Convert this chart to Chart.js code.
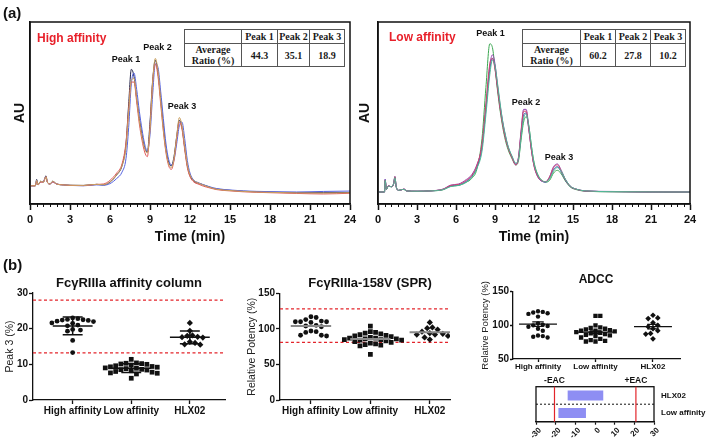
<!DOCTYPE html>
<html><head><meta charset="utf-8">
<script src="https://cdn.jsdelivr.net/npm/chart.js@4.4.1/dist/chart.umd.min.js"></script>
<style>
html,body{margin:0;padding:0;background:#fff;}
#wrap{position:relative;width:708px;height:440px;overflow:hidden;background:#fff;}
canvas{position:absolute;}
.lbl{position:absolute;font:bold 15px "Liberation Sans",Arial,sans-serif;color:#111;line-height:17px;}
.tb{position:absolute;border-collapse:collapse;table-layout:fixed;font:bold 10px "Liberation Serif","Times New Roman",serif;color:#1a1a1a;background:#fff;}
.tb td{border:1px solid #555;text-align:center;padding:0;line-height:11px;}
</style></head><body>
<div id="wrap">
<canvas id="cA" width="360" height="250" style="left:0;top:0"></canvas>
<canvas id="cB" width="353" height="250" style="left:355px;top:0"></canvas>
<canvas id="cC" width="235" height="170" style="left:0;top:262px"></canvas>
<canvas id="cD" width="235" height="170" style="left:235px;top:262px"></canvas>
<canvas id="cE" width="238" height="115" style="left:470px;top:262px"></canvas>
<canvas id="cF" width="238" height="68" style="left:470px;top:372px"></canvas>
<div class="lbl" style="left:3px;top:4px">(a)</div>
<div class="lbl" style="left:3px;top:256px">(b)</div>
<table class="tb" id="tA" style="left:184px;top:29px;width:160px;height:38px"></table>
<table class="tb" id="tB" style="left:522px;top:29px;width:163px;height:38px"></table>
</div>
<script>
// ---------------- data: (a) chromatograms ----------------
const TIME_TICKS = [0,3,6,9,12,15,18,21,24];
const TIME_HA = [0,0.4,0.5,0.6,0.8,1.0,1.2,1.3,1.5,1.7,2.0,2.5,3,4,5,5.5,6,6.5,6.9,7.2,7.4,7.6,7.8,8.0,8.2,8.4,8.6,8.8,9.0,9.2,9.4,9.6,9.8,10.0,10.2,10.4,10.6,10.8,11.0,11.2,11.4,11.6,11.8,12.0,12.3,12.6,13,13.5,14,15,16,18,20,22,24];
const HA_BLACK = [10,10,13.5,10.5,12.5,12,15.5,12,11,12.5, 11,10.5,10.3,10.2,10.8, 10.5,12,16,21,33, 55,74,70,58,47, 38,31,28.5,45,68, 79,72,58,43,30, 23,21,26,37,46, 42,31,21,15.5,12.5, 11.5,10.5,9.2,8.2,7.5, 7,6.5,6.2,6.2,6.3];
const HA_BLUE  = [10,10,13,10.5,12,12.5,15,12,11,12, 11,10.5,10.2,10,10.5, 10.3,11.2,14,17.5,25, 42,66,72,63,51, 41,33,29,38,60, 77,75,62,47,33, 24.5,21.5,24,33,43, 45,36,24,17,13, 11.8,10.6,9.4,8.5,7.7, 7.2,6.8,6.6,6.9,7.1];
const HA_RED   = [10,10,12.5,10.5,12,12,15,12,11,12, 11,10.5,10.2,10.1,10.8, 11,13,17,22,34, 52,67,67,56,44, 35,28.5,26,42,67, 77,70,55,40,28, 21,19,24,36,45, 41,30,20,15,12, 11,9.8,8.8,7.9,7.2, 6.7,6.2,5.8,5.5,5.9];
const HA_TAN   = [10,10,13,10.5,12.5,12,15,12,11,12.5, 11,10.5,10.3,10.2,10.8, 10.6,12.2,16,21,31, 50,68,69,58,46, 37,30.5,28,41,67, 80,73,57,41,29, 22,20,25,37,47.5, 43,32,21.5,16,12.8, 11.6,10.4,9.1,8.1,7.4, 6.9,6.4,6.1,6.0,6.2];

const TIME_LA = [0,0.5,0.55,0.65,0.8,1.0,1.2,1.3,1.4,1.6,1.9,2.0,2.2,3,4,5,5.6,6.2,6.8,7.2,7.6,8.0,8.3,8.6,8.8,9.0,9.2,9.4,9.6,9.8,10.0,10.3,10.6,10.8,11.0,11.2,11.4,11.6,11.8,12.0,12.3,12.6,12.9,13.2,13.5,13.8,14.1,14.4,14.8,15.2,16,18,20,22,24];
const LA_BLUE   = [6.6,6.6,13.5,8,10,9.5,11,15,9.5,7.5, 8,8.2,7.2,7,7.2, 8,10,10.5,12.5,15, 20,31,52,74,80, 75,64,53,44,37, 31.5,26,22,25,38, 49,50,41,30,21.5, 15,12.6,12,14.5,19, 20.5,17.5,13.2,9.5,8.2, 7.1,6.8,6.7,6.6,6.6];
const LA_GREEN  = [6.6,6.6,13,8,9.8,9.5,11,14.5,9.5,7.5, 8,8,7.2,7,7.2, 7.8,9.8,10.2,12,14, 19,36,64,88,86, 75,62,51,42,35, 30,25,21.5,23.5,35, 45,48,43,32,23, 16,13,12,13,17, 18.5,16.5,12.8,9.3,8, 7,6.7,6.6,6.5,6.5];
const LA_PURPLE = [6.6,6.6,13.5,8,10,9.5,11,15,9.5,7.5, 8,8.2,7.2,7,7.2, 8.2,10.4,11,13.5,16, 21.5,32,53,76,82, 77,65,54,45,37.5, 31.5,26,21.5,25.5,40, 52,52,42,30,21, 14.8,12.5,12.2,15,20.5, 22,18.5,13.8,9.8,8.3, 7.2,6.9,6.7,6.6,6.6];
const LA_RED    = [6.6,6.6,13,8,10,9.5,11,15,9.5,7.5, 8,8.2,7.2,7,7.2, 8.1,10.2,10.8,13,15.5, 21,33,55,77,80, 74,63,52,43,36, 31,25.5,21.5,25,39, 51,51,41,29.5,21, 15,12.8,12.3,14.8,20, 21.5,18,13.5,9.6,8.2, 7.1,6.8,6.7,6.6,6.6];
const LA_TEAL   = [6.6,6.6,13,8,9.8,9.5,11,14.5,9.5,7.5, 8,8,7.2,7,7.2, 7.9,9.6,10.2,12,14.5, 19.5,29,49,71,79, 76,66,55,45,38, 32,26.5,22.5,24.5,36, 47,49.5,43,32,22.5, 16,13,12.2,13.8,18, 20,18,13.8,9.8,8.3, 7.2,6.8,6.7,6.6,6.6];

const PEAK_NAMES = ['Peak 1','Peak 2','Peak 3'];
const HA_RATIO = [44.3,35.1,18.9];
const LA_RATIO = [60.2,27.8,10.2];

// ---------------- data: (b) ----------------
const GROUPS = ['High affinity','Low affinity','HLX02'];
const COL_HIGH = [22.8,22.5,22.3,22.0,22.6,23.0,22.4,22.1,21.5,21.0,20.8,19.6,19.3,19.8,16.7,13.3,21.6];
const COL_LOW  = [11.4,10.4,10.2,10.3,10.0,10.1,9.6,9.4,9.3,9.2,9.0,8.9,8.8,8.6,8.5,8.4,8.2,8.0,7.8,7.6,7.5,7.3,6.1,9.8];
const COL_HLX  = [21.6,19.4,18.1,18.0,17.7,17.6,17.5,16.3,16.0,15.6,15.5];
const COL_LIMITS = [28, 13.2];
const SPR_HIGH = [117,116,113,111,110,110,109,110,105,104,103,97,96,95,91,90,91];
const SPR_LOW  = [104,96,95,94,93,92,91,90,89,88,87,87,86,86,85,85,84,84,83,82,81,80,79,78,77,76,64];
const SPR_HLX  = [109,102,101,99,96,94,93,92,92,90,88,85];
const SPR_LIMITS = [128, 81];
const ADCC_HIGH = [121,120,119,118,117,113,103,101,100,99,98,95,92,85,84,83,82];
const ADCC_LOW  = [114,114,100,97,96,95,94,93,92,92,91,90,89,88,87,86,85,84,82,80,78,77,76,76];
const ADCC_HLX  = [115,111,110,104,100,98,95,92,88,87,80];
const EAC_CATS = ['HLX02','Low affinity'];
const EAC_RANGES = [[-13.9,4.2],[-18.6,-4.6]];
const EAC_LIMITS = [-20.6, 20.8];
const EAC_LABELS = ['-EAC','+EAC'];

// ---------------- helpers ----------------
const F = '"Liberation Sans", Arial, Helvetica, sans-serif';
const INK = '#111';
const RED = '#e3242b';

const textsPlugin = {id:'texts', afterDraw(chart,args,o){
  const items = (o && o.items) || []; const ctx = chart.ctx;
  items.forEach(it=>{ ctx.save(); ctx.font = it.font; ctx.fillStyle = it.color || INK;
    ctx.textAlign = it.align || 'center'; ctx.textBaseline = 'middle'; ctx.fillText(it.t, it.x, it.y); ctx.restore(); });
}};
const framePlugin = {id:'frame', afterDraw(chart,args,o){
  if(!o || !o.width) return; const a = chart.chartArea, ctx = chart.ctx;
  ctx.save(); ctx.strokeStyle = INK; ctx.lineWidth = o.width; ctx.strokeRect(a.left,a.top,a.right-a.left,a.bottom-a.top); ctx.restore();
}};
const minorPlugin = {id:'minorTicks', afterDraw(chart,args,o){
  if(!o || !o.step) return; const s = chart.scales.x, ctx = chart.ctx, b = chart.chartArea.bottom;
  ctx.save(); ctx.strokeStyle = INK; ctx.lineWidth = 1; ctx.beginPath();
  for(let v = s.min; v <= s.max + 1e-9; v += o.step){
    if(Math.abs(v/3 - Math.round(v/3)) < 1e-6) continue;
    const px = Math.round(s.getPixelForValue(v)) + 0.5; ctx.moveTo(px,b); ctx.lineTo(px,b+o.len);
  }
  ctx.stroke(); ctx.restore();
}};
const eacPlugin = {id:'eac', afterDraw(chart,args,o){
  if(!o || !o.limits) return; const ctx = chart.ctx, a = chart.chartArea, x = chart.scales.x, y = chart.scales.y;
  ctx.save();
  const ym = (y.getPixelForValue(0) + y.getPixelForValue(1)) / 2;
  ctx.strokeStyle = INK; ctx.lineWidth = 1; ctx.setLineDash([2,2]);
  ctx.beginPath(); ctx.moveTo(a.left, ym); ctx.lineTo(a.right, ym); ctx.stroke();
  ctx.setLineDash([]);
  o.limits.forEach((v,i)=>{
    const px = x.getPixelForValue(v);
    ctx.strokeStyle = RED; ctx.lineWidth = 1.2; ctx.beginPath(); ctx.moveTo(px,a.top); ctx.lineTo(px,a.bottom); ctx.stroke();
    ctx.fillStyle = INK; ctx.font = 'bold 8.5px ' + F; ctx.textAlign = 'center'; ctx.textBaseline = 'middle';
    ctx.fillText(o.labels[i], px, a.top - 6);
  });
  ctx.restore();
}};
Chart.register(textsPlugin, framePlugin, minorPlugin, eacPlugin);

function mean(v){ return v.reduce((s,x)=>s+x,0)/v.length; }
function sd(v){ const m = mean(v); return Math.sqrt(v.reduce((s,x)=>s+(x-m)*(x-m),0)/(v.length-1)); }

function swarm(vals, c, pxX, pxY, d){
  const order = vals.map((v,i)=>i).sort((a,b)=>vals[b]-vals[a]);
  const placed = []; const out = new Array(vals.length);
  order.forEach(i=>{
    const py = vals[i]*pxY;
    for(let k=0;k<80;k++){
      const off = (k%2?1:-1)*Math.ceil(k/2)*d*0.5;
      if(placed.every(p=>(p.x-off)*(p.x-off)+(p.y-py)*(p.y-py) >= d*d)){
        placed.push({x:off,y:py}); out[i] = {x:c+off/pxX, y:vals[i]}; break;
      }
    }
  });
  return out;
}
function errData(groups, kind, hm, hc){
  const pts = [];
  groups.forEach((v,gi)=>{
    const c = gi+1, m = mean(v);
    pts.push({x:c-hm,y:m},{x:c+hm,y:m},{x:c,y:null});
    if(kind !== 'none'){
      const e = kind === 'sd' ? sd(v) : sd(v)/Math.sqrt(v.length);
      pts.push({x:c,y:m-e},{x:c,y:m+e},{x:c,y:null},
               {x:c-hc,y:m+e},{x:c+hc,y:m+e},{x:c,y:null},
               {x:c-hc,y:m-e},{x:c+hc,y:m-e},{x:c,y:null});
    }
  });
  return pts;
}

function buildTable(id, widths, vals){
  const t = document.getElementById(id);
  let h = '<colgroup>' + widths.map(w=>'<col style="width:'+w+'px">').join('') + '</colgroup>';
  h += '<tr style="height:14px"><td></td>' + PEAK_NAMES.map(p=>'<td>'+p+'</td>').join('') + '</tr>';
  h += '<tr><td>Average<br>Ratio (%)</td>' + vals.map(v=>'<td>'+v.toFixed(1)+'</td>').join('') + '</tr>';
  t.innerHTML = h;
}
buildTable('tA', [57,36,32,35], HA_RATIO);
buildTable('tB', [58,35,35,35], LA_RATIO);

function chromChart(id, times, traces, colors, o){
  return new Chart(document.getElementById(id), {
    type:'line',
    data:{datasets: traces.map((v,i)=>({data: times.map((t,j)=>({x:t,y:v[j]})), borderColor:colors[i], borderWidth:1,
      pointRadius:0, fill:false, cubicInterpolationMode:'monotone'}))},
    options:{
      responsive:false, animation:false, devicePixelRatio:1, events:[],
      layout:{padding:{left:0,top:22,right:o.padRight,bottom:0}},
      plugins:{legend:{display:false}, tooltip:{enabled:false}, frame:{width:1.5}, minorTicks:{step:0.5,len:3}, texts:{items:o.texts}},
      scales:{
        x:{type:'linear', min:0, max:24,
          afterBuildTicks: s=>{ s.ticks = TIME_TICKS.map(v=>({value:v})); },
          ticks:{color:INK, font:{family:F,size:11,weight:'bold'}, padding:3, maxRotation:0, autoSkip:false},
          grid:{drawOnChartArea:false, tickLength:6, tickColor:INK, tickWidth:1.5},
          border:{color:INK, width:1.5},
          title:{display:true, text:'Time (min)', color:INK, font:{family:F,size:14,weight:'bold'}, padding:{top:0,bottom:4}},
          afterFit: s=>{ s.height = 46; }},
        y:{type:'linear', min:0, max:100, ticks:{display:false}, grid:{display:false}, border:{color:INK,width:1.5},
          title:{display:true, text:'AU', color:INK, font:{family:F,size:14,weight:'bold'}, padding:{top:o.auPad,bottom:0}},
          afterFit: s=>{ s.width = o.yW; }}
      }
    }
  });
}

chromChart('cA', TIME_HA, [HA_TAN, HA_RED, HA_BLUE, HA_BLACK], ['#c9a060','#e05a5a','#5563e0','#1e1e45'], {
  padRight:10, yW:30, auPad:11.6,
  texts:[
    {t:'High affinity', x:37, y:39, font:'bold 12px '+F, color:'#e8202a', align:'left'},
    {t:'Peak 1', x:126, y:60, font:'bold 9px '+F},
    {t:'Peak 2', x:157.5, y:48, font:'bold 9px '+F},
    {t:'Peak 3', x:182, y:107, font:'bold 9px '+F}
  ]});
chromChart('cB', TIME_LA, [LA_TEAL, LA_RED, LA_PURPLE, LA_BLUE, LA_GREEN], ['#4fb896','#d0446e','#9446b0','#3a4fb0','#3aa650'], {
  padRight:18, yW:23, auPad:1.6,
  texts:[
    {t:'Low affinity', x:34, y:38, font:'bold 12px '+F, color:'#e8202a', align:'left'},
    {t:'Peak 1', x:135.5, y:34, font:'bold 9px '+F},
    {t:'Peak 2', x:171, y:103, font:'bold 9px '+F},
    {t:'Peak 3', x:204, y:158, font:'bold 9px '+F}
  ]});

function dotChart(id, c){
  const styles = ['circle','rect','rectRot'];
  const radii = [c.r, c.r*1.4, c.r*1.3];
  const ds = [];
  c.groups.forEach((vals,gi)=>{
    ds.push({data: swarm(vals, gi+1, c.pxX, c.pxY, c.diam), pointStyle:styles[gi], pointRadius:radii[gi],
      backgroundColor:INK, borderColor:INK, borderWidth:0, order:2});
  });
  ds.push({data: errData(c.groups, c.err, c.hm, c.hc), showLine:true, borderColor:c.meanColor, borderWidth:c.meanW,
    pointRadius:0, spanGaps:false, order:1});
  (c.limits||[]).forEach(l=>ds.push({data:[{x:c.xMin,y:l},{x:c.xMax,y:l}], showLine:true, borderColor:RED, borderWidth:1.3,
    borderDash:[3,2.5], pointRadius:0, order:3}));
  return new Chart(document.getElementById(id), {
    type:'scatter',
    data:{datasets:ds},
    options:{
      responsive:false, animation:false, devicePixelRatio:1, events:[],
      layout:{padding:{left:0, top:c.top, right:c.padRight, bottom:0}},
      plugins:{legend:{display:false}, tooltip:{enabled:false}, texts:{items:c.texts}},
      scales:{
        x:{type:'linear', min:c.xMin, max:c.xMax,
          afterBuildTicks: s=>{ s.ticks = [1,2,3].map(v=>({value:v})); },
          ticks:{autoSkip:false, maxRotation:0, color:INK, font:{family:F,size:c.catFont,weight:'bold'}, padding:c.xPad,
            callback: v=>GROUPS[v-1]},
          grid:{drawOnChartArea:false, tickLength:c.tl, tickColor:INK, tickWidth:1.3},
          border:{color:INK, width:1.3},
          afterFit: s=>{ s.height = c.xH; }},
        y:{type:'linear', min:c.yMin, max:c.yMax,
          ticks:{stepSize:c.yStep, color:INK, font:{family:F,size:10,weight:'bold'}, padding:1},
          grid:{drawOnChartArea:false, tickLength:c.tl, tickColor:INK, tickWidth:1.3},
          border:{color:INK, width:1.3},
          title:{display:true, text:c.yTitle, color:'#222', font:{family:F,size:c.yTitleSize}, padding:{top:c.yTitlePad,bottom:0}},
          afterFit: s=>{ s.width = c.yW; }}
      }
    }
  });
}

dotChart('cC', {groups:[COL_HIGH,COL_LOW,COL_HLX], pxX:58.6, pxY:107/30, diam:5.2, r:2.4,
  xMin:0.323, xMax:3.6, yMin:0, yMax:30, yStep:10, limits:COL_LIMITS,
  err:'sd', hm:0.34, hc:0.17, meanColor:INK, meanW:1.5,
  top:31, padRight:10, yW:33, xH:32, tl:4, xPad:1, catFont:10,
  yTitle:'Peak 3 (%)', yTitleSize:10.5, yTitlePad:3.7,
  texts:[{t:'Fc\u03b3RIIIa affinity column', x:129, y:21, font:'bold 13px '+F}]});

dotChart('cD', {groups:[SPR_HIGH,SPR_LOW,SPR_HLX], pxX:59.4, pxY:106.7/150, diam:5.2, r:2.4,
  xMin:0.479, xMax:3.34, yMin:0, yMax:150, yStep:50, limits:SPR_LIMITS,
  err:'none', hm:0.34, hc:0.17, meanColor:'#8a8a8a', meanW:2,
  top:31.3, padRight:20, yW:45, xH:32, tl:4, xPad:1, catFont:10,
  yTitle:'Relative Potency (%)', yTitleSize:10.5, yTitlePad:10.7,
  texts:[{t:'Fc\u03b3RIIIa-158V (SPR)', x:135, y:21, font:'bold 13px '+F}]});

dotChart('cE', {groups:[ADCC_HIGH,ADCC_LOW,ADCC_HLX], pxX:57.5, pxY:67.3/100, diam:4.8, r:2.2,
  xMin:0.565, xMax:3.47, yMin:50, yMax:150, yStep:50, limits:[],
  err:'sem', hm:0.33, hc:0.1, meanColor:INK, meanW:1.3,
  top:29.7, padRight:28, yW:43, xH:18, tl:3, xPad:0, catFont:8,
  yTitle:'Relative Potency (%)', yTitleSize:9.5, yTitlePad:9.3,
  texts:[{t:'ADCC', x:126, y:18, font:'bold 12px '+F}]});

new Chart(document.getElementById('cF'), {
  type:'bar',
  data:{labels:EAC_CATS, datasets:[{data:EAC_RANGES, backgroundColor:'#8e8ef3', borderWidth:0, barPercentage:0.57, categoryPercentage:1}]},
  options:{indexAxis:'y', responsive:false, animation:false, devicePixelRatio:1, events:[],
    layout:{padding:{left:66, top:14.7, right:0, bottom:0}},
    plugins:{legend:{display:false}, tooltip:{enabled:false}, frame:{width:1.3}, eac:{limits:EAC_LIMITS, labels:EAC_LABELS}},
    scales:{
      x:{type:'linear', min:-30, max:30,
        ticks:{stepSize:10, minRotation:45, maxRotation:45, autoSkip:false, color:INK, font:{family:F,size:8,weight:'bold'}, padding:1, labelOffset:4},
        grid:{drawOnChartArea:false, tickLength:3, tickColor:INK, tickWidth:1.2},
        border:{color:INK, width:1.3},
        afterFit: s=>{ s.height = 18.3; }},
      y:{position:'right', ticks:{color:INK, font:{family:F,size:8,weight:'bold'}, padding:7},
        grid:{display:false, drawTicks:false}, border:{display:false},
        afterFit: s=>{ s.width = 54; }}
    }}
});
</script>
</body></html>
